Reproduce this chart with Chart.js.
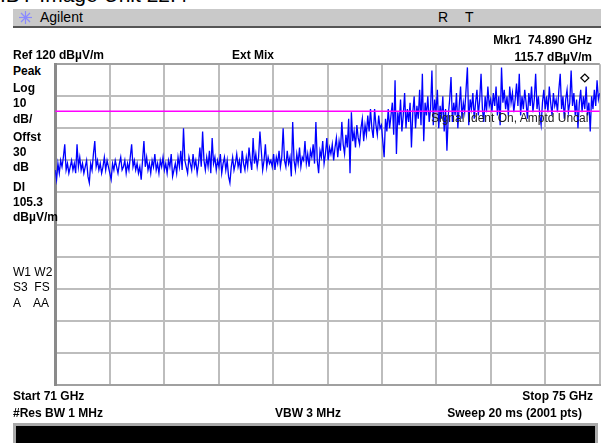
<!DOCTYPE html>
<html>
<head>
<meta charset="utf-8">
<script src="https://cdn.jsdelivr.net/npm/chart.js@4"></script>
<style>
html, body { margin: 0; padding: 0; background: #fff; overflow: hidden; width: 601px; height: 443px; }
body { position: relative; font-family: "Liberation Sans", Arial, sans-serif; }
.t { position: absolute; white-space: pre; font-size: 12px; line-height: 14px; color: #000; }
.b { font-weight: bold; }
#title { position: absolute; left: 0; top: -17px; font-size: 21px; line-height: 24px; white-space: nowrap; }
#bar { position: absolute; left: 13px; top: 9px; width: 588px; height: 17px; background: #c9c9c9; border-bottom: 2px solid #555; }
#plot { position: absolute; left: 50px; top: 59px; }
#msg { position: absolute; left: 431px; top: 111px; width: 155px; height: 14px; z-index: 2; color: #222; }
#foot { position: absolute; left: 13px; top: 423px; width: 579px; height: 20px; background: #000; border: 3px solid #a9a9a9; border-bottom: none; }
</style>
</head>
<body>
<div id="title">IBY Image Unit 22.4</div>
<div id="bar"></div>
<svg style="position:absolute;left:19px;top:11px" width="13" height="13" viewBox="0 0 13 13">
  <g stroke="#8a8aff" stroke-width="1.2">
    <line x1="6.5" y1="0" x2="6.5" y2="13"/><line x1="0" y1="6.5" x2="13" y2="6.5"/>
    <line x1="2" y1="2" x2="11" y2="11"/><line x1="11" y1="2" x2="2" y2="11"/>
  </g>
</svg>
<div class="t" style="left:40px;top:9px;font-size:14px;line-height:16px">Agilent</div>
<div class="t" style="left:438px;top:9px;font-size:14px;line-height:16px">R</div>
<div class="t" style="left:465px;top:9px;font-size:14px;line-height:16px">T</div>

<div id="plot"><canvas id="c" width="555" height="331"></canvas></div>
<div id="msg" class="t">Signal Ident On, Amptd Uncal</div>
<div id="foot"></div>

<script>
// sweep settings
var START_GHZ = 71;
var STOP_GHZ = 75;
var REF_LEVEL = 120;
var BOTTOM_LEVEL = 20;
var DISPLAY_LINE = 105.3;
var MARKER = [74.890, 115.7];

// screen annotations: text, centre y, bold
var leftLabels = [
  ['Peak', 71, 1], ['Log', 88, 1], ['10', 103, 1], ['dB/', 119, 1],
  ['Offst', 137, 1], ['30', 152, 1], ['dB', 167, 1], ['DI', 187, 1],
  ['105.3', 202, 1], ['dB\u00b5V/m', 217, 1],
  ['W1 W2', 272, 0], ['S3  FS', 287, 0], ['A    AA', 303, 0]
];
var topLabels = [
  ['Ref 120 dB\u00b5V/m', 13, 55, 'left'],
  ['Ext Mix', 232, 55, 'left'],
  ['Mkr1  74.890 GHz', 592, 40, 'right'],
  ['115.7 dB\u00b5V/m', 592, 57, 'right'],
  ['Start 71 GHz', 13, 396, 'left'],
  ['#Res BW 1 MHz', 13, 413, 'left'],
  ['VBW 3 MHz', 275, 413, 'left'],
  ['Stop 75 GHz', 593, 396, 'right'],
  ['Sweep 20 ms (2001 pts)', 582, 413, 'right']
];

// trace, dBuV/m, left to right
var traceA = [87,84,89,86,90,88,91,95,87,89, 86,88,90,87,89,86,95,88,91,87,
  89,86,88,90,85,83,89,87,92,96, 88,90,87,89,86,88,91,87,90,88,
  86,84,89,87,90,88,86,89,91,87, 88,90,86,89,87,91,95,88,90,87,
  89,86,88,84,90,96,88,91,87,89, 86,90,88,92,87,89,86,90];
var traceB = [88,91,87,89,86,90,88,92,85,87, 89,86,91,88,93,87,100,90,88,86,
  91,89,87,92,88,90,86,89,94,88, 99,90,87,91,88,93,86,97,89,91,
  87,90,88,92,86,89,91,87,90,85, 83,88,91,87,89,92,88,90,86,93,
  89,87,91,88,94,90,87,97,89,92, 88,91,99,93,87,90,95,88,91,89];
var traceC = [90,88,92,87,91,89,93,88,91,100, 90,88,93,89,91,85,102,90,87,92,
  89,94,88,91,90,96,89,92,88,93, 91,95,89,102,90,86,93,91,96,89,
  92,97,90,94];
var traceD = [92,95,90,94,97,91,96,93,102,95, 92,98,94,103,86,105,96,99,94,101,
  97,95,100,103,96,101,98,104,99,106, 100,97,106,101,98,104,100];
var traceE = [101,96,91,103,99,106,100,104,108,98, 115,92,105,101,109,99,104,111,100,106,
  102,108,94,105,110,100,107,103,112,101, 117,96,108,104,110,102,106,118,101,109,
  105,112,100,107,103,110,99,106,93,104, 109,116,102,108,104,111,100,107,113,103,
  108,105,112,119,101,109,106,111,103,108, 112,104,109,117,106,102,110,105,113,107];
var traceF = [109,105,111,107,113,104,110,101,119,108, 112,106,110,104,113,108,111,105,109,114,
  107,117,104,110,106,112,108,103,111,107, 113,105,109,117,106,110,104,101,108,112,
  106,110,105,113,108,104,111,107,109,105, 112,117,106,110,103,109,112,105,108,118,
  107,111,104,109,100,108,112,105,110,106, 113,104,108,99,110,106,112,107,115,109, 111];

var trace = traceA.concat(traceB, traceC, traceD, traceE, traceF);

function addText(txt, x, yc, align, bold) {
  var d = document.createElement('div');
  d.className = 't' + (bold ? ' b' : '');
  d.textContent = txt;
  d.style.top = (yc - 7) + 'px';
  if (align === 'right') d.style.right = (601 - x) + 'px';
  else d.style.left = x + 'px';
  document.body.appendChild(d);
}

leftLabels.forEach(function(l) { addText(l[0], 13, l[1], 'left', l[2]); });
topLabels.forEach(function(l) { addText(l[0], l[1], l[2], l[3], true); });

var step = (STOP_GHZ - START_GHZ) / (trace.length - 1);
var points = trace.map(function(v, i) { return {x: START_GHZ + i * step, y: v}; });

new Chart(document.getElementById('c'), {
  type: 'line',
  data: {
    datasets: [
      {
        data: points,
        borderColor: '#0000ff',
        borderWidth: 1.3,
        pointRadius: 0,
        tension: 0,
        order: 2
      },
      {
        data: [{x: START_GHZ, y: DISPLAY_LINE}, {x: STOP_GHZ, y: DISPLAY_LINE}],
        borderColor: '#ff00ff',
        borderWidth: 1.5,
        pointRadius: 0,
        order: 1
      },
      {
        data: [{x: MARKER[0], y: MARKER[1]}],
        showLine: false,
        pointStyle: 'rectRot',
        pointRadius: 4,
        backgroundColor: '#ffffff',
        borderColor: '#000000',
        borderWidth: 1.2,
        order: 0
      }
    ]
  },
  options: {
    responsive: false,
    animation: false,
    events: [],
    layout: { padding: 4 },
    plugins: { legend: { display: false }, tooltip: { enabled: false } },
    scales: {
      x: {
        type: 'linear',
        min: START_GHZ,
        max: STOP_GHZ,
        ticks: { display: false, stepSize: 0.4 },
        grid: { drawTicks: false, color: '#bdbdbd', lineWidth: 2 },
        border: { display: true, color: '#a0a0a0', width: 2 }
      },
      y: {
        min: BOTTOM_LEVEL,
        max: REF_LEVEL,
        ticks: { display: false, stepSize: 10 },
        grid: {
          drawTicks: false,
          lineWidth: 2,
          color: function(c) { return c.tick && c.tick.value === REF_LEVEL ? '#a0a0a0' : '#bdbdbd'; }
        },
        border: { display: true, color: '#8a8a8a', width: 3 }
      }
    }
  }
});
</script>
</body>
</html>
